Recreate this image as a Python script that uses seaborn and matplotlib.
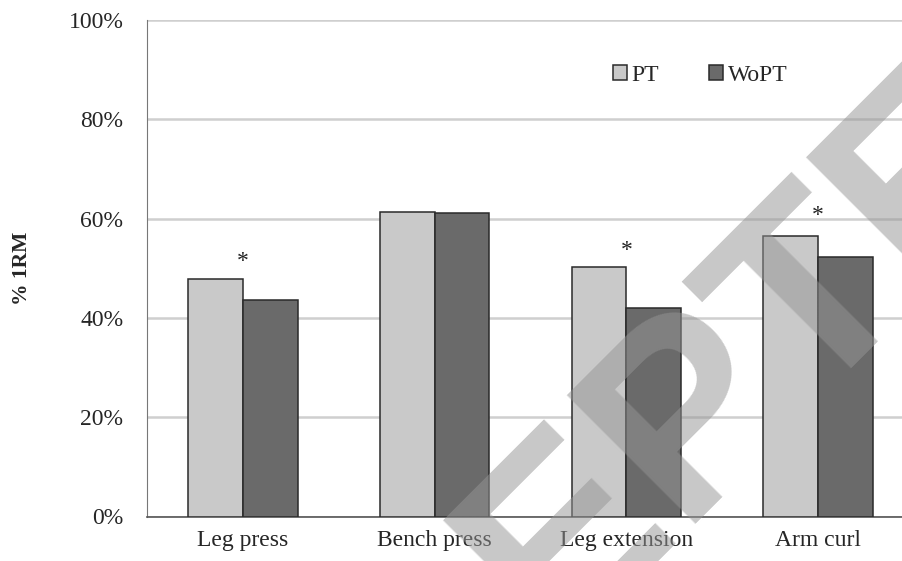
import pandas as pd
import matplotlib
matplotlib.use('Agg')
import matplotlib.pyplot as plt
import seaborn as sns
from matplotlib.ticker import PercentFormatter

exercises = ['Leg press', 'Bench press', 'Leg extension', 'Arm curl']
groups = ['PT', 'WoPT']
pt_values = [47.8, 61.4, 50.3, 56.4]
wopt_values = [43.7, 61.1, 42.0, 52.2]
# height (in %) of the significance asterisk, None = no marker
star_heights = [52.7, None, 54.8, 61.9]

df = pd.DataFrame({
    'Exercise': exercises * 2,
    'Group': ['PT'] * 4 + ['WoPT'] * 4,
    'Value': pt_values + wopt_values,
})

sns.set_style('white')
plt.rcParams['font.family'] = ['Liberation Serif', 'DejaVu Serif']

fig = plt.figure(figsize=(9.03, 5.61), dpi=100)
ax = fig.add_axes([147 / 903, 44.5 / 561, 767 / 903, 496.5 / 561])

sns.barplot(data=df, x='Exercise', y='Value', hue='Group', order=exercises,
            hue_order=groups, palette={'PT': '#c9c9c9', 'WoPT': '#6a6a6a'},
            width=0.57, edgecolor='#2a2a2a', linewidth=1.1, ax=ax, zorder=3)

# significance markers
for i, h in enumerate(star_heights):
    if h is not None:
        ax.annotate('*', (i, h), xytext=(0, -8.6), textcoords='offset points',
                    ha='center', va='baseline', fontsize=17, color='#222222')

ax.set_ylim(0, 100)
ax.set_xlim(-0.5, 3.5)
ax.set_yticks(range(0, 101, 20))
ax.yaxis.set_major_formatter(PercentFormatter(decimals=0))
ax.set_xticks([-0.5, 0.5, 1.5, 2.5])
ax.set_xticklabels([])
ax.set_xticks(range(4), minor=True)
ax.set_xticklabels(exercises, minor=True)
ax.tick_params(axis='x', which='minor', length=0, labelsize=17, pad=10)
ax.tick_params(axis='x', which='major', length=7, width=1, color='#555555', direction='out')
ax.tick_params(axis='y', length=6, width=1, color='#777777', direction='out', labelsize=17, pad=11)
ax.grid(axis='y', color='#cfcfcf', linewidth=1.8, zorder=0)
ax.set_axisbelow(True)
for side in ['top', 'right']:
    ax.spines[side].set_visible(False)
ax.spines['left'].set_color('#777777')
ax.spines['bottom'].set_color('#555555')
ax.spines['bottom'].set_linewidth(1.2)
ax.set_xlabel('')
ax.set_ylabel('% 1RM', fontsize=15.5, fontweight='bold')
ax.yaxis.set_label_coords(-0.150, 0.5)

leg = ax.legend(loc='center left', bbox_to_anchor=(0.592, 0.889), ncol=2, frameon=False,
                fontsize=17, borderpad=0, handlelength=0.6, handleheight=0.6,
                handletextpad=0.2, columnspacing=2.1)
for h in leg.legend_handles:
    h.set_edgecolor('#2a2a2a')

# diagonal watermark
fig.text(0.6846, 0.1107, 'ACCEPTED', rotation=45, rotation_mode='anchor', ha='center', va='center',
         fontsize=190, fontweight='bold', family='Liberation Sans', color='#959595',
         alpha=0.52, zorder=10)

fig.savefig('out.png', dpi=100)
